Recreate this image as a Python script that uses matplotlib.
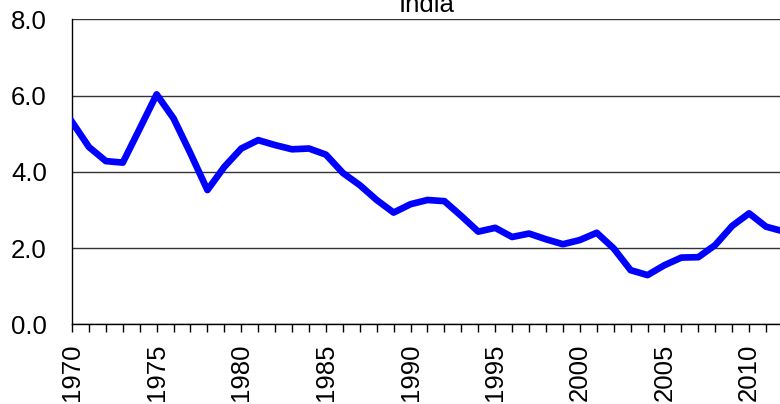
import numpy as np
import matplotlib.pyplot as plt
from matplotlib.ticker import MultipleLocator

years = list(range(1970, 2013))
values = [5.31, 4.65, 4.28, 4.24, 5.13, 6.03, 5.40, 4.48, 3.52, 4.13,
          4.61, 4.83, 4.70, 4.59, 4.61, 4.45, 3.97, 3.65, 3.26, 2.93,
          3.15, 3.26, 3.23, 2.84, 2.43, 2.53, 2.29, 2.38, 2.23, 2.10,
          2.21, 2.40, 1.99, 1.42, 1.29, 1.55, 1.75, 1.76, 2.08, 2.58,
          2.91, 2.56, 2.44]
title = "India"

plt.rcParams['font.family'] = ['Liberation Sans', 'DejaVu Sans']

fig = plt.figure(figsize=(7.8, 4.04), dpi=100)
# axes runs a little past the right edge, like the cropped original
ax = fig.add_axes([0.0923, 0.1973, 0.9115, 0.755])

ax.plot(years, values, color='#0000ff', lw=4.8, solid_joinstyle='round', zorder=3)

ax.set_xlim(1970, 2012)
ax.set_ylim(0, 8)
ax.set_yticks([0, 2, 4, 6, 8])
ax.set_yticklabels(['%.1f' % v for v in [0, 2, 4, 6, 8]], fontsize=18.5)
ax.yaxis.grid(True, color='#333333', lw=1.0)
ax.tick_params(axis='y', length=0, pad=18)

ax.xaxis.set_major_locator(MultipleLocator(5))
ax.xaxis.set_minor_locator(MultipleLocator(1))
ax.tick_params(axis='x', which='both', direction='out', length=5.8, width=1, pad=8,
               labelsize=18.5, labelrotation=90)

for s in ['top', 'right']:
    ax.spines[s].set_visible(False)
ax.spines['left'].set_linewidth(1.0)
ax.spines['bottom'].set_linewidth(1.0)

fig.text(427 / 780, 1 - 11.7 / 404, title, ha='center', va='baseline', fontsize=18.5)

fig.savefig('out.png', dpi=100)
